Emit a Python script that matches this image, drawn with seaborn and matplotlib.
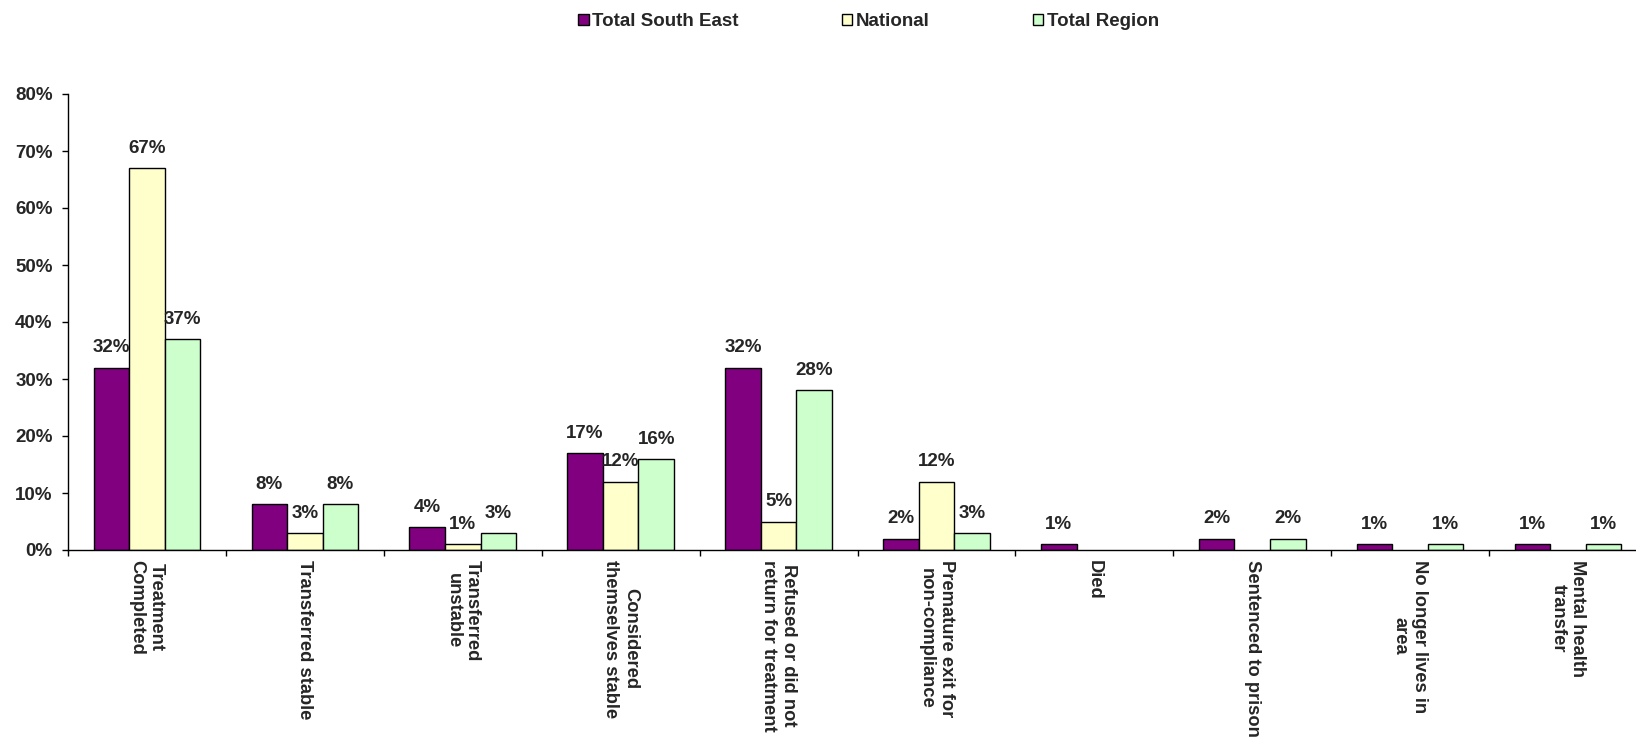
import numpy as np
import pandas as pd
import matplotlib
matplotlib.use("Agg")
import matplotlib.pyplot as plt
import seaborn as sns
from matplotlib.patches import Patch

categories = [
    "Treatment\nCompleted",
    "Transferred stable",
    "Transferred\nunstable",
    "Considered\nthemselves stable",
    "Refused or did not\nreturn for treatment",
    "Premature exit for\nnon-compliance",
    "Died",
    "Sentenced to prison",
    "No longer lives in\narea",
    "Mental health\ntransfer",
]
series_names = ["Total South East", "National", "Total Region"]
total_south_east = [32, 8, 4, 17, 32, 2, 1, 2, 1, 1]
national = [67, 3, 1, 12, 5, 12, 0, 0, 0, 0]
total_region = [37, 8, 3, 16, 28, 3, 0, 2, 1, 1]
colors = ["#800080", "#FFFFCC", "#CCFFCC"]
y_ticks = [0, 10, 20, 30, 40, 50, 60, 70, 80]

sns.set_theme(style="white")
plt.rcParams["font.family"] = ["Liberation Sans", "DejaVu Sans"]
plt.rcParams["font.weight"] = "bold"

rows = []
for name, vals in zip(series_names, [total_south_east, national, total_region]):
    for c, v in zip(categories, vals):
        rows.append({"cat": c, "series": name, "value": v})
df = pd.DataFrame(rows)

fig = plt.figure(figsize=(16.36, 7.39), dpi=100)
ax = fig.add_axes([68 / 1636, 189 / 739, 1579 / 1636, 456 / 739])

sns.barplot(data=df, x="cat", y="value", hue="series", order=categories,
            hue_order=series_names, palette=colors, saturation=1,
            width=0.675, edgecolor="black", linewidth=1, ax=ax, legend=False)

fs = 13.5
for cont, vals in zip(ax.containers, [total_south_east, national, total_region]):
    for patch, v in zip(cont, vals):
        if v == 0:
            patch.set_linewidth(0)
    labels = [f"{v}%" if v > 0 else "" for v in vals]
    ax.bar_label(cont, labels=labels, padding=8, fontsize=fs, fontweight="bold")

ax.set_ylim(0, 80)
ax.set_xlim(-0.5, len(categories) - 0.5)
ax.set_yticks(y_ticks)
ax.set_yticklabels([f"{t}%" for t in y_ticks], fontsize=fs, fontweight="bold")
ax.tick_params(axis="y", direction="out", length=4, width=1, pad=7, left=True, color="black")

ax.set_xticks(range(len(categories)))
ax.set_xticklabels(categories, rotation=270, ha="center", va="top",
                   multialignment="center", fontsize=13.2, fontweight="bold")
ax.set_xticks(np.arange(-0.5, len(categories), 1.0), minor=True)
ax.tick_params(axis="x", which="major", length=0, pad=7)
ax.tick_params(axis="x", which="minor", direction="out", length=4, width=1, bottom=True, color="black")
ax.set_xlabel("")
ax.set_ylabel("")

for s in ["top", "right"]:
    ax.spines[s].set_visible(False)
for s in ["left", "bottom"]:
    ax.spines[s].set_color("black")
    ax.spines[s].set_linewidth(1)

handles = [Patch(facecolor=c, edgecolor="black", linewidth=1, label=n)
           for c, n in zip(colors, series_names)]
fig.legend(handles=handles, loc="center", bbox_to_anchor=(0.531, 0.971), ncol=3,
           frameon=False, prop={"size": fs, "weight": "bold"},
           handlelength=0.55, handleheight=0.55, handletextpad=0.2, columnspacing=5.5)

fig.savefig("out.png", dpi=100)
